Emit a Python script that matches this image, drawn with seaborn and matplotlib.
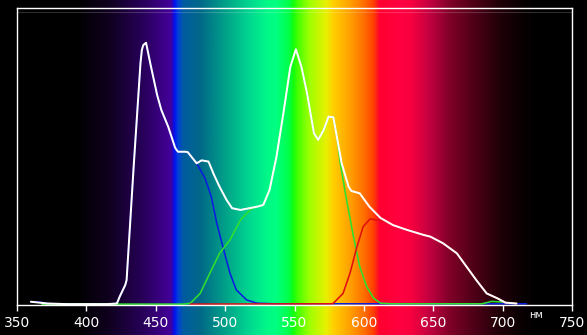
import numpy as np
import pandas as pd
import matplotlib
matplotlib.use("Agg")
import matplotlib.pyplot as plt
import seaborn as sns
from matplotlib.colors import to_rgb

# ---------------- data (wavelength nm, relative intensity) ----------------
white_nm = [360, 366, 372, 386, 400, 415, 422, 424, 428, 429, 434, 439, 440, 441, 443,
            446, 451, 454, 459, 464, 466, 471, 473, 479.5, 483, 488, 492, 496, 501, 505,
            511, 523, 527.5, 532, 537, 542, 547, 551, 555, 559, 564, 567, 571, 574.5,
            578, 580.5, 584, 589, 591, 597, 604, 612, 621, 631, 643, 648, 657, 667,
            674, 681, 688.5, 696, 702, 710]
white_val = [0.011, 0.008, 0.005, 0.003, 0.003, 0.003, 0.005, 0.028, 0.067, 0.084, 0.46,
             0.815, 0.859, 0.875, 0.883, 0.815, 0.707, 0.657, 0.600, 0.529, 0.516, 0.516,
             0.515, 0.477, 0.487, 0.483, 0.438, 0.398, 0.354, 0.326, 0.320, 0.331, 0.337,
             0.387, 0.499, 0.646, 0.802, 0.861, 0.802, 0.714, 0.579, 0.556, 0.589, 0.634,
             0.632, 0.567, 0.477, 0.398, 0.384, 0.376, 0.331, 0.293, 0.269, 0.253, 0.236,
             0.230, 0.208, 0.174, 0.129, 0.084, 0.039, 0.023, 0.008, 0.005]

blue_nm = [360, 366, 372, 386, 400, 415, 422, 424, 428, 429, 434, 439, 440, 441, 443,
           446, 451, 454, 459, 464, 466, 471, 473, 479.5, 485.5, 490, 494, 499, 503.5,
           508, 515.5, 523, 535, 600, 717]
blue_val = [0.011, 0.010, 0.005, 0.003, 0.003, 0.003, 0.005, 0.028, 0.067, 0.084, 0.46,
            0.815, 0.859, 0.875, 0.883, 0.815, 0.707, 0.657, 0.600, 0.529, 0.516, 0.516,
            0.515, 0.477, 0.427, 0.365, 0.275, 0.185, 0.107, 0.051, 0.017, 0.006, 0.004,
            0.004, 0.004]

green_nm = [368, 385, 430, 470, 475, 482, 489, 496, 503.5, 511, 518, 520, 523, 527.5,
            532, 537, 542, 547, 551, 555, 559, 564, 567, 571, 574.5, 578, 580.5, 583,
            587.5, 592.5, 597, 602, 607, 612, 620, 685, 692, 700]
green_val = [0.003, 0.003, 0.003, 0.003, 0.006, 0.039, 0.107, 0.174, 0.219, 0.286, 0.320,
             0.326, 0.331, 0.337, 0.387, 0.499, 0.646, 0.802, 0.861, 0.802, 0.714, 0.579,
             0.556, 0.589, 0.634, 0.632, 0.567, 0.477, 0.354, 0.230, 0.129, 0.062, 0.023,
             0.006, 0.004, 0.004, 0.012, 0.010]

red_nm = [475, 577, 578, 585, 590, 595, 599.5, 604.5, 609, 614, 621, 631, 643, 648, 657,
          667, 674, 681, 688.5, 696, 702, 710]
red_val = [0.003, 0.004, 0.006, 0.039, 0.107, 0.196, 0.264, 0.290, 0.286, 0.284, 0.269,
           0.253, 0.236, 0.230, 0.208, 0.174, 0.129, 0.084, 0.039, 0.023, 0.008, 0.005]

x_ticks = [350, 400, 450, 500, 550, 600, 650, 700, 750]
unit_label = "нм"

# ---------------- spectrum background colour stops ----------------
spec_nm = [350, 393, 417, 441, 458, 461, 463.5, 466, 470, 482, 500, 518, 530, 537, 546,
           549, 552, 561, 573, 578, 590, 600, 607, 611.5, 626, 634, 648, 662, 679, 698,
           715, 725, 750]
spec_col = ["#000000", "#000000", "#100020", "#28005a", "#400090", "#42009c", "#0010f0",
            "#0040d8", "#005ca0", "#006888", "#00a088", "#00d890", "#00f888", "#00ff80",
            "#00ff48", "#10ff10", "#40ff00", "#a0ff00", "#e8f000", "#ffd000", "#ffa000",
            "#ff7000", "#ff4000", "#ff0030", "#ff0040", "#f8003e", "#c00040", "#800028",
            "#500018", "#200008", "#080002", "#000000", "#000000"]

sns.set_style("white")
plt.rcParams['font.family'] = ['DejaVu Sans']

W, H = 587, 335
fig = plt.figure(figsize=(W / 100, H / 100), dpi=100, facecolor="black")
px0, px1, py0, py1 = 17, 572, 8, 305

# background spectrum band (full height)
bg = fig.add_axes([px0 / W, 0, (px1 - px0) / W, 1])
bg.set_axis_off()
grid = np.linspace(350, 750, 1600)
rgb = np.array([to_rgb(c) for c in spec_col])
img = np.stack([np.interp(grid, spec_nm, rgb[:, k]) for k in range(3)], axis=-1)[None, :, :]
bg.imshow(img, aspect="auto", extent=(350, 750, 0, 1), interpolation="bilinear")
bg.set_xlim(350, 750)
bg.set_ylim(0, 1)

# main axes
ax = fig.add_axes([px0 / W, 1 - py1 / H, (px1 - px0) / W, (py1 - py0) / H])
ax.set_facecolor("none")

df = pd.concat([
    pd.DataFrame({"nm": blue_nm, "v": blue_val, "s": "blue"}),
    pd.DataFrame({"nm": green_nm, "v": green_val, "s": "green"}),
    pd.DataFrame({"nm": red_nm, "v": red_val, "s": "red"}),
    pd.DataFrame({"nm": white_nm, "v": white_val, "s": "white"}),
])
styles = {"blue": ("#0a1ee0", 1.15), "green": ("#2ee02e", 1.15),
          "red": ("#e01010", 1.15), "white": ("#ffffff", 1.45)}
for s in ["blue", "green", "red", "white"]:
    c, lw = styles[s]
    sns.lineplot(data=df[df.s == s], x="nm", y="v", ax=ax, color=c, lw=lw,
                 estimator=None, sort=False, legend=False)

ax.axhline(0.988, color="white", alpha=0.18, lw=0.8)

ax.set_xlim(350, 750)
ax.set_ylim(0, 1)
ax.set_xticks(x_ticks)
ax.set_xticklabels([str(t) for t in x_ticks])
ax.set_yticks([])
ax.set_xlabel("")
ax.set_ylabel("")
ax.grid(False)
for sp in ax.spines.values():
    sp.set_color("white")
    sp.set_linewidth(1.0)
    sp.set_visible(True)
ax.tick_params(axis="x", direction="out", length=4, width=1, color="white",
               labelcolor="white", labelsize=10, pad=4, bottom=True)

fig.text(536 / W, 1 - 315.5 / H, unit_label, color="white", fontsize=7,
         ha="center", va="center")

fig.savefig("out.png", dpi=100, facecolor="black")
